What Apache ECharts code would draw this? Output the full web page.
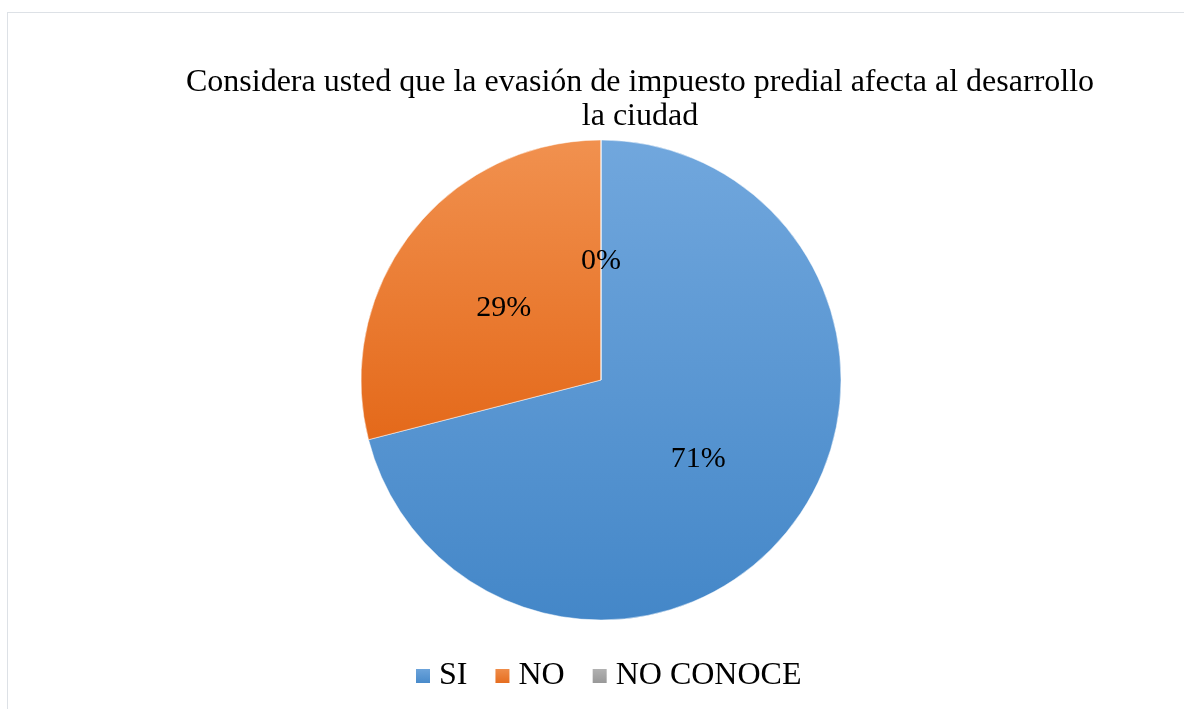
<!DOCTYPE html>
<html>
<head>
<meta charset="utf-8">
<script src="https://cdn.jsdelivr.net/npm/echarts@6/dist/echarts.min.js"></script>
<style>
  html, body { margin: 0; padding: 0; background: #fff; overflow: hidden; }
  #pieChart {
    position: absolute;
    left: 7px;
    top: 12px;
    width: 1266px;
    height: 720px;
    border: 1px solid #dde1e6;
  }
</style>
</head>
<body>
<div id="pieChart"></div>
<script>
var title = "Considera usted que la evasión de impuesto predial afecta al desarrollo\nla ciudad";
var names = ["SI", "NO", "NO CONOCE"];
var values = [71, 29, 0];

// colores degradados tipo Excel (claro arriba, oscuro abajo)
var colors = [
  ["#71a7dd", "#4487c8"],
  ["#f1914f", "#e4691a"],
  ["#b5b5b5", "#959595"]
];

function grad(c) {
  return {
    type: "linear", x: 0, y: 0, x2: 0, y2: 1,
    colorStops: [{ offset: 0, color: c[0] }, { offset: 1, color: c[1] }]
  };
}

var data = [];
for (let i = 0; i < names.length; i++) {
  data.push({
    name: names[i],
    value: values[i],
    itemStyle: { color: grad(colors[i]) }
  });
}

var fontFamily = "'Liberation Serif', 'Times New Roman', serif";

var option = {
  animation: false,
  title: {
    text: title,
    left: 627,
    top: 48,
    textAlign: "center",
    textStyle: {
      fontFamily: fontFamily,
      fontSize: 32,
      fontWeight: "normal",
      color: "#000",
      lineHeight: 34
    }
  },
  legend: {
    data: names,
    left: 401,
    top: 642,
    icon: "rect",
    itemWidth: 16,
    itemHeight: 16,
    itemGap: 26,
    textStyle: {
      fontFamily: fontFamily,
      fontSize: 32,
      color: "#000",
      padding: [0, 0, 0, 3]
    }
  },
  series: [{
    type: "pie",
    center: [593, 367],
    radius: [0, 240],
    startAngle: 90,
    clockwise: true,
    avoidLabelOverlap: false,
    itemStyle: { borderColor: "#fff", borderWidth: 0.5 },
    label: {
      show: true,
      position: "inside",
      fontFamily: fontFamily,
      fontSize: 30,
      color: "#000",
      offset: [0, 4],
      formatter: function (p) {
        return Math.round(p.percent) + "%";
      }
    },
    labelLine: { show: false },
    emphasis: { disabled: true },
    data: data
  }]
};

var myChart = echarts.init(document.getElementById("pieChart"));
myChart.setOption(option);
</script>
</body>
</html>
